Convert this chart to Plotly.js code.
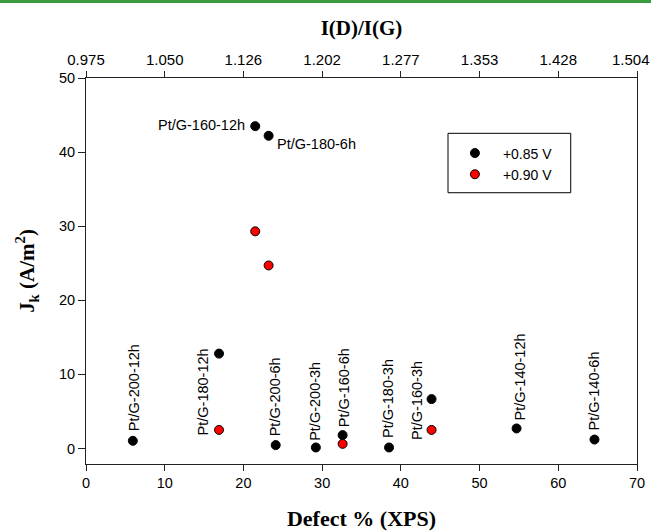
<!DOCTYPE html>
<html>
<head>
<meta charset="utf-8">
<script src="https://cdn.plot.ly/plotly-3.0.1.min.js"></script>
<style>
  html, body { margin: 0; padding: 0; background: #fff; }
  #wrap { position: relative; width: 651px; height: 532px; }
  #topline { position: absolute; left: 0; top: 0; width: 651px; height: 3px; background: #3a9b3f; z-index: 5; }
  #chart { position: absolute; left: 0; top: 0; width: 651px; height: 532px; }
</style>
</head>
<body>
<div id="wrap">
  <div id="chart"></div>
  <div id="topline"></div>
</div>
<script>
// ---- data ----
const sampleLabels = ['Pt/G-200-12h','Pt/G-180-12h','Pt/G-160-12h','Pt/G-180-6h','Pt/G-200-6h','Pt/G-200-3h','Pt/G-160-6h','Pt/G-180-3h','Pt/G-160-3h','Pt/G-140-12h','Pt/G-140-6h'];
const defectXPS = [5.95, 16.9, 21.5, 23.2, 24.1, 29.2, 32.6, 38.5, 43.9, 54.7, 64.6];
const jk085 = [1.03, 12.8, 43.5, 42.2, 0.45, 0.13, 1.8, 0.13, 6.66, 2.7, 1.2];
const jk090 = [null, 2.5, 29.3, 24.7, null, null, 0.62, null, 2.5, null, null];
const seriesNames = ['+0.85 V', '+0.90 V'];
const idigTickVals = [0.975, 1.0506, 1.1261, 1.2017, 1.2773, 1.3529, 1.4284, 1.504];
const idigTickText = ['0.975','1.050','1.126','1.202','1.277','1.353','1.428','1.504'];
const defectTicks = [0, 10, 20, 30, 40, 50, 60, 70];
const jkTicks = [0, 10, 20, 30, 40, 50];

// ---- label placement (style): which series value to anchor on, and pixel offsets ----
const labelStyle = {
  'Pt/G-200-12h': {s: 0, ang: -90, xa: 'center', ya: 'bottom', dx: 1,   dy: 9},
  'Pt/G-180-12h': {s: 1, ang: -90, xa: 'center', ya: 'bottom', dx: -16, dy: -7},
  'Pt/G-160-12h': {s: 0, ang: 0,   xa: 'right',  ya: 'middle', dx: -9,  dy: 1},
  'Pt/G-180-6h':  {s: 0, ang: 0,   xa: 'left',   ya: 'middle', dx: 7,   dy: -8},
  'Pt/G-200-6h':  {s: 0, ang: -90, xa: 'center', ya: 'bottom', dx: -1,  dy: 8},
  'Pt/G-200-3h':  {s: 0, ang: -90, xa: 'center', ya: 'bottom', dx: -1,  dy: 6},
  'Pt/G-160-6h':  {s: 0, ang: -90, xa: 'center', ya: 'bottom', dx: 1,   dy: 7},
  'Pt/G-180-3h':  {s: 0, ang: -90, xa: 'center', ya: 'bottom', dx: -1,  dy: 8},
  'Pt/G-160-3h':  {s: 1, ang: -90, xa: 'center', ya: 'bottom', dx: -14, dy: -11},
  'Pt/G-140-12h': {s: 0, ang: -90, xa: 'center', ya: 'bottom', dx: 3,   dy: 7},
  'Pt/G-140-6h':  {s: 0, ang: -90, xa: 'center', ya: 'bottom', dx: 0,   dy: 8}
};

const FONT = 'Liberation Sans, Arial, sans-serif';
const SERIF = 'Liberation Serif, Times New Roman, serif';
const AX = '#222';

// the last top label sits slightly left of its tick (as in the original), padded with nbsp
const topTickText = idigTickText.map((t, i) => i === idigTickText.length - 1 ? t + '\u00a0\u00a0\u00a0' : t);

const traces = [
  {
    x: defectXPS, y: jk085, name: seriesNames[0], type: 'scatter', mode: 'markers',
    marker: {color: '#000', size: 9, line: {color: '#000', width: 1}},
    xaxis: 'x', yaxis: 'y'
  },
  {
    x: defectXPS, y: jk090, name: seriesNames[1], type: 'scatter', mode: 'markers',
    marker: {color: '#ff0000', size: 9, line: {color: '#000', width: 1}},
    xaxis: 'x', yaxis: 'y'
  },
  {
    // carrier for the top I(D)/I(G) axis (no marks)
    x: [], y: [], type: 'scatter', mode: 'markers', xaxis: 'x2', yaxis: 'y',
    showlegend: false, hoverinfo: 'skip'
  }
];

const annotations = sampleLabels.map((lab, i) => {
  const st = labelStyle[lab];
  const yv = st.s === 0 ? jk085[i] : jk090[i];
  return {
    x: defectXPS[i], y: yv, xref: 'x', yref: 'y', text: lab, showarrow: false,
    textangle: st.ang, xanchor: st.xa, yanchor: st.ya, xshift: st.dx, yshift: st.dy,
    borderpad: 0, font: {family: FONT, size: 14.5, color: '#000'}
  };
});

const layout = {
  width: 651, height: 532,
  margin: {l: 86, r: 14, t: 78, b: 68},
  paper_bgcolor: '#fff', plot_bgcolor: '#fff',
  showlegend: true,
  legend: {
    x: 0.655, y: 0.846, xanchor: 'left', yanchor: 'top',
    bgcolor: 'rgba(0,0,0,0)', borderwidth: 0, itemwidth: 46, tracegroupgap: 0,
    font: {family: FONT, size: 14, color: '#000'}
  },
  xaxis: {
    range: [0, 70], tickvals: defectTicks, ticks: 'outside', ticklen: 6, tickwidth: 1, tickcolor: AX,
    showline: true, linecolor: AX, linewidth: 1, showgrid: false, zeroline: false,
    tickfont: {family: FONT, size: 14.5, color: '#000'},
    title: {text: 'Defect % (XPS)', font: {family: SERIF, size: 22, color: '#000', weight: 'bold'}, standoff: 20}
  },
  xaxis2: {
    overlaying: 'x', side: 'top', anchor: 'y',
    range: [0.975, 1.504], tickvals: idigTickVals, ticktext: topTickText,
    ticks: 'outside', ticklen: 6, tickwidth: 1, tickcolor: AX, ticklabeloverflow: 'allow',
    showline: true, linecolor: AX, linewidth: 1, showgrid: false, zeroline: false,
    tickfont: {family: FONT, size: 15, color: '#000'},
    title: {text: 'I(D)/I(G)', font: {family: SERIF, size: 21, color: '#000', weight: 'bold'}, standoff: 9}
  },
  yaxis: {
    range: [-2.1, 50], tickvals: jkTicks, ticks: 'outside', ticklen: 7, tickwidth: 1, tickcolor: AX,
    showline: true, mirror: true, linecolor: AX, linewidth: 1, showgrid: false, zeroline: false,
    tickfont: {family: FONT, size: 14.5, color: '#000'},
    title: {text: 'J<sub>k</sub> (A/m<sup>2</sup>)', font: {family: SERIF, size: 21, color: '#000', weight: 'bold'}, standoff: 18}
  },
  shapes: [
    {type: 'rect', xref: 'paper', yref: 'paper', x0: 0.657, x1: 0.8797, y0: 0.7028, y1: 0.8567,
     line: {color: '#000', width: 1}, fillcolor: 'rgba(0,0,0,0)'}
  ],
  annotations: annotations
};

Plotly.newPlot('chart', traces, layout, {displayModeBar: false, staticPlot: true});
</script>
</body>
</html>
